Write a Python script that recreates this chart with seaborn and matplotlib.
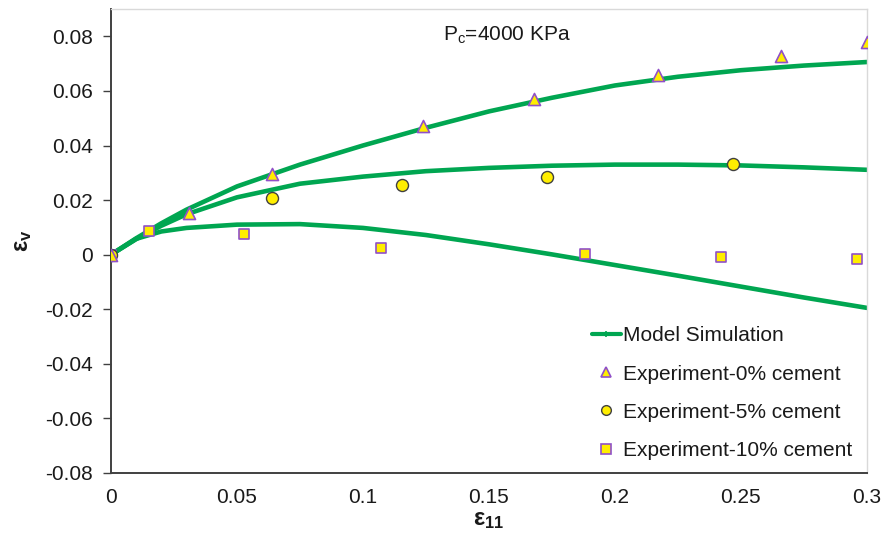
import numpy as np
import pandas as pd
import seaborn as sns
import matplotlib.pyplot as plt
from matplotlib.lines import Line2D

# Model simulation curves (axial strain vs volumetric strain)
strain_model = [0.0, 0.01, 0.02, 0.03, 0.05, 0.075, 0.1, 0.125, 0.15, 0.175,
                0.2, 0.225, 0.25, 0.275, 0.3]
model_0 = [0.0, 0.0060, 0.0115, 0.0165, 0.0250, 0.0330, 0.0400, 0.0465, 0.0525,
           0.0575, 0.0620, 0.0652, 0.0676, 0.0693, 0.0706]
model_5 = [0.0, 0.0057, 0.0106, 0.0148, 0.0210, 0.0260, 0.0286, 0.0306, 0.0318,
           0.0326, 0.0330, 0.0330, 0.0327, 0.0320, 0.0311]
model_10 = [0.0, 0.0058, 0.0085, 0.0098, 0.0110, 0.0112, 0.0098, 0.0072, 0.0038,
            0.0001, -0.0038, -0.0077, -0.0117, -0.0157, -0.0195]

# Experimental points
exp0_x = [0.0, 0.031, 0.064, 0.124, 0.168, 0.217, 0.266, 0.300]
exp0_y = [0.0, 0.0154, 0.0297, 0.0470, 0.0570, 0.0657, 0.0727, 0.0778]
exp5_x = [0.0, 0.064, 0.1156, 0.173, 0.247]
exp5_y = [0.0, 0.0209, 0.0257, 0.0283, 0.0334]
exp10_x = [0.0, 0.0151, 0.0528, 0.107, 0.188, 0.242, 0.296]
exp10_y = [0.0, 0.0088, 0.0077, 0.0026, 0.0004, -0.0007, -0.0015]

labels = ["Model Simulation", "Experiment-0% cement",
          "Experiment-5% cement", "Experiment-10% cement"]
x_ticks = [0, 0.05, 0.1, 0.15, 0.2, 0.25, 0.3]
x_tick_labels = ["0", "0.05", "0.1", "0.15", "0.2", "0.25", "0.3"]
y_ticks = [-0.08, -0.06, -0.04, -0.02, 0, 0.02, 0.04, 0.06, 0.08]
y_tick_labels = ["-0.08", "-0.06", "-0.04", "-0.02", "0",
                 "0.02", "0.04", "0.06", "0.08"]

sns.set_style("white")
plt.rcParams['font.family'] = ['Liberation Sans', 'DejaVu Sans']
plt.rcParams['mathtext.fontset'] = 'custom'
plt.rcParams['mathtext.rm'] = 'Liberation Sans'
plt.rcParams['mathtext.it'] = 'Liberation Sans'
plt.rcParams['mathtext.bf'] = 'Liberation Sans:bold'

GREEN = '#00a651'
PURPLE = '#9050c8'
YELLOW = '#ffee00'
TEXT = '#1a1a1a'

model_df = pd.DataFrame({
    'strain': strain_model * 3,
    'vol': model_0 + model_5 + model_10,
    'case': ['0%'] * len(strain_model) + ['5%'] * len(strain_model)
            + ['10%'] * len(strain_model),
})

fig = plt.figure(figsize=(8.82, 5.35), dpi=100)
ax = fig.add_axes([0.1258, 0.116, 0.857, 0.867])

sns.lineplot(data=model_df, x='strain', y='vol', units='case', estimator=None,
             color=GREEN, linewidth=3.3, ax=ax, legend=False, sort=False)

sns.scatterplot(x=exp10_x, y=exp10_y, marker='s', s=62, color=YELLOW,
                edgecolor=PURPLE, linewidth=1.2, ax=ax, zorder=5)
sns.scatterplot(x=exp5_x, y=exp5_y, marker='o', s=75, color=YELLOW,
                edgecolor='#404040', linewidth=1.0, ax=ax, zorder=5)
sns.scatterplot(x=exp0_x, y=exp0_y, marker='^', s=75, color=YELLOW,
                edgecolor=PURPLE, linewidth=1.2, ax=ax, zorder=6)

ax.set_xlim(0, 0.3)
ax.set_ylim(-0.08, 0.09)
ax.set_xticks(x_ticks)
ax.set_xticklabels(x_tick_labels)
ax.set_yticks(y_ticks)
ax.set_yticklabels(y_tick_labels)
ax.tick_params(axis='x', length=0, pad=11, labelsize=15, colors=TEXT)
ax.tick_params(axis='y', length=6, width=1, left=True, direction='out',
               pad=7, labelsize=15, colors=TEXT)
ax.tick_params(axis='y', color='#404040')

for side in ('top', 'right'):
    ax.spines[side].set_color('#d9d9d9')
    ax.spines[side].set_linewidth(1.0)
for side in ('left', 'bottom'):
    ax.spines[side].set_color('#404040')
    ax.spines[side].set_linewidth(1.4)

ax.set_xlabel(r'$\mathbf{ε}_\mathbf{11}$', fontsize=17, labelpad=1, color=TEXT)
ax.set_ylabel(r'$\mathbf{ε}_\mathbf{v}$', fontsize=17, labelpad=8, color=TEXT)

ax.text(0.157, 0.0805, r'P$_\mathrm{c}$=4000 KPa', fontsize=15,
        ha='center', va='center', color=TEXT)

handles = [
    Line2D([], [], color=GREEN, linewidth=3.0, marker='|', markersize=5,
           markeredgewidth=1.2),
    Line2D([], [], linestyle='none', marker='^', markersize=7,
           markerfacecolor=YELLOW, markeredgecolor=PURPLE, markeredgewidth=1.2),
    Line2D([], [], linestyle='none', marker='o', markersize=7,
           markerfacecolor=YELLOW, markeredgecolor='#404040', markeredgewidth=1.0),
    Line2D([], [], linestyle='none', marker='s', markersize=7,
           markerfacecolor=YELLOW, markeredgecolor=PURPLE, markeredgewidth=1.2),
]
ax.legend(handles, labels, loc='center left', bbox_to_anchor=(0.636, 0.172),
          frameon=False, fontsize=15, handlelength=1.4, handletextpad=0.12,
          labelspacing=0.92, borderpad=0, borderaxespad=0,
          labelcolor=TEXT)

fig.savefig('out.png', dpi=100)
